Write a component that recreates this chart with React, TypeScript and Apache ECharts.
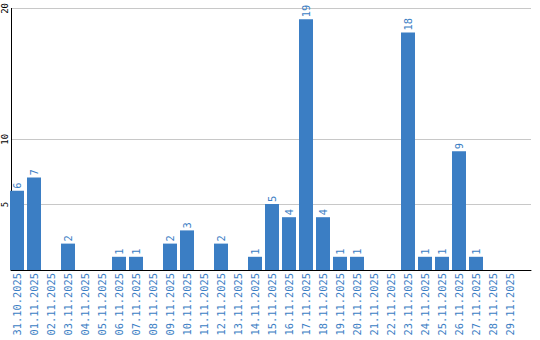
import React, { useEffect, useRef } from "react";
import * as echarts from "echarts";

const categories = [
  "31.10.2025", "01.11.2025", "02.11.2025", "03.11.2025", "04.11.2025",
  "05.11.2025", "06.11.2025", "07.11.2025", "08.11.2025", "09.11.2025",
  "10.11.2025", "11.11.2025", "12.11.2025", "13.11.2025", "14.11.2025",
  "15.11.2025", "16.11.2025", "17.11.2025", "18.11.2025", "19.11.2025",
  "20.11.2025", "21.11.2025", "22.11.2025", "23.11.2025", "24.11.2025",
  "25.11.2025", "26.11.2025", "27.11.2025", "28.11.2025", "29.11.2025",
];
const values = [
  6, 7, 0, 2, 0, 0, 1, 1, 0, 2,
  3, 0, 2, 0, 1, 5, 4, 19, 4, 1,
  1, 0, 0, 18, 1, 1, 9, 1, 0, 0,
];
const yTicks = [5, 10, 20];
const yMax = 20;

const BLUE = "#3b7ec4";
const FONT = "DejaVu Sans Mono";

export default function App() {
  const ref = useRef<HTMLDivElement>(null);
  useEffect(() => {
    if (!ref.current) return;
    const chart = echarts.init(ref.current, null, { renderer: "svg" });
    chart.setOption({
      animation: false,
      backgroundColor: "#ffffff",
      grid: [
        { left: 8.5, top: 6, width: 510, height: 264, containLabel: false },
        { left: 10, top: 6, width: 521, height: 264, containLabel: false },
      ],
      xAxis: [
        {
          type: "category",
          gridIndex: 0,
          data: categories,
          axisLine: { show: false },
          axisTick: { show: false },
          axisLabel: {
            interval: 0,
            rotate: 90,
            margin: 3,
            color: BLUE,
            fontFamily: FONT,
            fontSize: 10.4,
          },
        },
        {
          type: "value",
          gridIndex: 1,
          min: 0,
          max: 1,
          axisLine: { show: true, onZero: false, lineStyle: { color: "#000", width: 1 } },
          axisTick: { show: false },
          axisLabel: { show: false },
          splitLine: { show: false },
        },
      ],
      yAxis: [
        {
          type: "value",
          gridIndex: 0,
          min: 0,
          max: yMax,
          show: false,
          splitLine: { show: false },
        },
        {
          type: "value",
          gridIndex: 1,
          min: 0,
          max: yMax,
          axisLine: { show: true, lineStyle: { color: "#000", width: 1 } },
          axisTick: { show: false, customValues: yTicks },
          axisLabel: {
            customValues: yTicks,
            rotate: 90,
            margin: 2,
            color: "#000",
            fontFamily: FONT,
            fontSize: 9,
          },
          splitLine: { show: true, lineStyle: { color: "#c8c8c8", width: 1 } },
        },
      ],
      series: [
        {
          type: "bar",
          xAxisIndex: 0,
          yAxisIndex: 0,
          data: values,
          barWidth: 14,
          itemStyle: { color: BLUE },
          label: {
            show: true,
            position: "top",
            rotate: 90,
            align: "left",
            verticalAlign: "middle",
            distance: 2,
            color: BLUE,
            fontFamily: FONT,
            fontSize: 10.4,
            formatter: (p: any) => (p.value ? String(p.value) : ""),
          },
        },
      ],
    });
    return () => chart.dispose();
  }, []);
  return (
    <div
      ref={ref}
      style={{ position: "fixed", left: 0, top: 0, width: 540, height: 340 }}
    />
  );
}
